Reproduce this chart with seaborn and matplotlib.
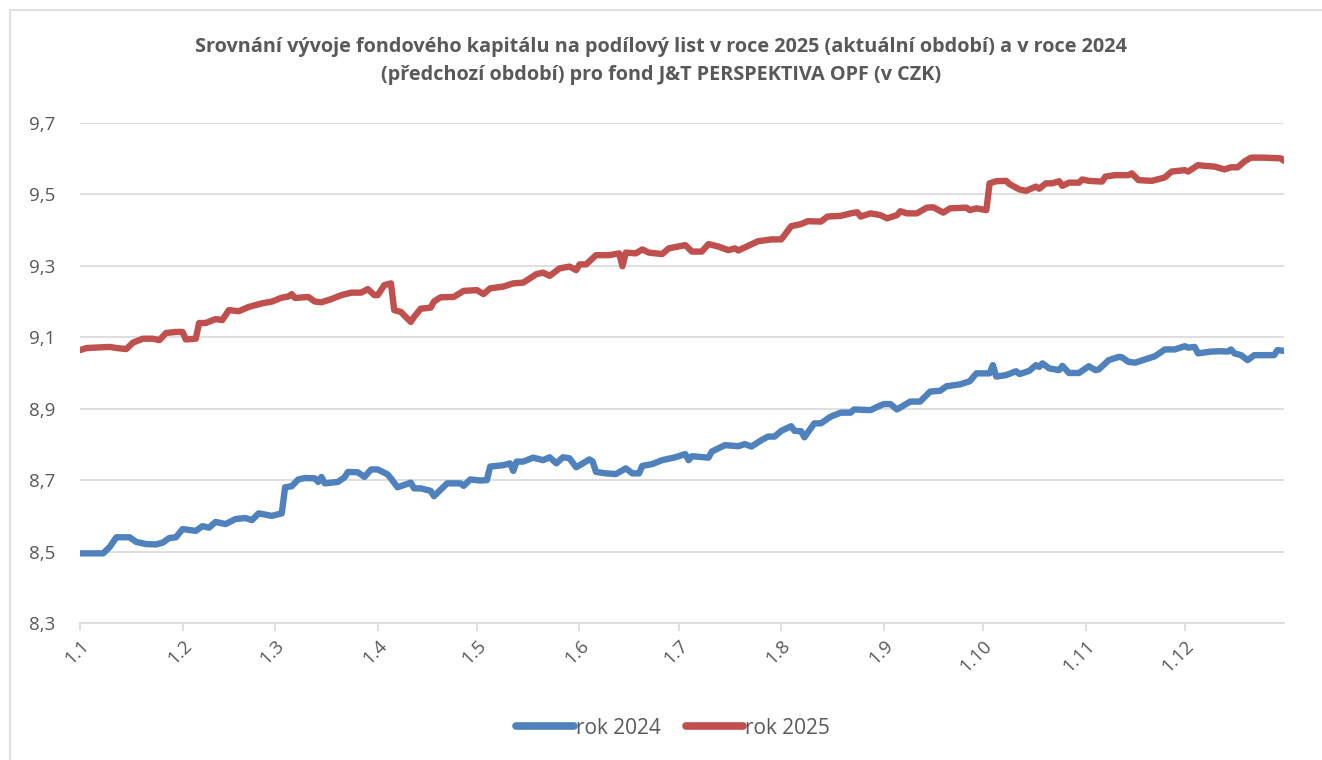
import pandas as pd
import seaborn as sns
import matplotlib.pyplot as plt
import matplotlib.dates as mdates
from matplotlib.ticker import FuncFormatter
from matplotlib.patches import Rectangle

# odečtené hodnoty (den v roce od 1.1., hodnota fondového kapitálu na PL)
den_2024 = [0, 7, 9, 11, 15, 17, 20, 23, 25, 27, 29, 31, 35, 37, 39, 41, 44, 47, 50, 52,
            54, 58, 61, 62, 64, 66, 68, 71, 72, 73, 74, 78, 80, 81, 84, 86, 88, 90, 93, 94,
            96, 100, 101, 103, 106, 107, 108, 111, 115, 116, 118, 121, 123, 124, 128, 130, 131, 132, 134, 137,
            140, 142, 144, 146, 148, 150, 152, 154, 155, 156, 159, 162, 165, 167, 169, 170, 173, 176, 180, 183,
            184, 185, 190, 191, 195, 199, 201, 203, 206, 208, 210, 212, 215, 216, 218, 219, 222, 224, 227, 230,
            233, 234, 239, 241, 243, 245, 247, 251, 254, 257, 260, 262, 266, 269, 271, 275, 276, 277, 280, 283,
            284, 287, 289, 290, 291, 293, 296, 297, 299, 302, 305, 307, 308, 311, 314, 315, 317, 319, 322, 325,
            328, 331, 334, 335, 337, 338, 342, 345, 347, 348, 349, 351, 353, 355, 361, 362, 364]
hodnota_2024 = [8.495, 8.495, 8.513, 8.540, 8.540, 8.527, 8.521, 8.520, 8.525, 8.538, 8.540, 8.563, 8.558, 8.571, 8.567, 8.583, 8.577, 8.591, 8.594, 8.588,
                8.607, 8.600, 8.607, 8.680, 8.683, 8.702, 8.706, 8.705, 8.695, 8.709, 8.691, 8.695, 8.708, 8.723, 8.722, 8.709, 8.730, 8.730, 8.716, 8.705,
                8.680, 8.693, 8.677, 8.677, 8.670, 8.655, 8.664, 8.691, 8.691, 8.684, 8.702, 8.699, 8.700, 8.738, 8.742, 8.747, 8.726, 8.752, 8.752, 8.763,
                8.756, 8.764, 8.747, 8.764, 8.761, 8.736, 8.747, 8.758, 8.752, 8.723, 8.719, 8.717, 8.733, 8.719, 8.719, 8.740, 8.745, 8.756, 8.764, 8.773,
                8.756, 8.767, 8.763, 8.780, 8.798, 8.795, 8.801, 8.794, 8.812, 8.822, 8.822, 8.838, 8.851, 8.838, 8.837, 8.820, 8.859, 8.859, 8.878, 8.889,
                8.889, 8.898, 8.896, 8.905, 8.913, 8.913, 8.898, 8.920, 8.920, 8.948, 8.950, 8.963, 8.968, 8.977, 8.999, 8.999, 9.022, 8.990, 8.994, 9.005,
                8.997, 9.006, 9.022, 9.017, 9.027, 9.013, 9.008, 9.020, 9.000, 9.000, 9.019, 9.008, 9.010, 9.036, 9.045, 9.044, 9.031, 9.029, 9.038, 9.047,
                9.066, 9.066, 9.075, 9.071, 9.073, 9.055, 9.060, 9.061, 9.060, 9.066, 9.055, 9.050, 9.036, 9.050, 9.050, 9.064, 9.062]

den_2025 = [0, 2, 9, 11, 14, 16, 19, 22, 24, 26, 29, 31, 32, 35, 36, 38, 41, 43, 45, 48,
            51, 55, 58, 61, 63, 64, 65, 69, 71, 73, 76, 79, 82, 85, 87, 89, 90, 92, 94, 95,
            97, 100, 101, 103, 106, 107, 109, 113, 116, 120, 122, 124, 128, 131, 134, 138, 140, 142, 145, 148,
            150, 151, 153, 156, 160, 163, 164, 165, 168, 170, 172, 176, 178, 183, 185, 188, 190, 193, 196, 198,
            199, 202, 205, 209, 212, 213, 215, 218, 220, 224, 226, 230, 233, 235, 236, 239, 242, 244, 247, 248,
            250, 253, 256, 258, 261, 263, 268, 269, 271, 274, 275, 277, 280, 281, 284, 286, 289, 290, 292, 294,
            296, 297, 299, 302, 303, 305, 309, 310, 313, 317, 318, 320, 324, 327, 328, 330, 334, 335, 338, 340,
            343, 346, 348, 350, 352, 354, 358, 363, 364]
hodnota_2025 = [9.064, 9.070, 9.073, 9.070, 9.067, 9.085, 9.096, 9.096, 9.092, 9.112, 9.115, 9.115, 9.094, 9.096, 9.140, 9.140, 9.151, 9.148, 9.176, 9.173,
                9.185, 9.195, 9.200, 9.211, 9.214, 9.221, 9.210, 9.213, 9.200, 9.198, 9.207, 9.218, 9.225, 9.225, 9.235, 9.218, 9.218, 9.246, 9.251, 9.176,
                9.171, 9.143, 9.157, 9.180, 9.183, 9.200, 9.212, 9.213, 9.230, 9.232, 9.221, 9.237, 9.242, 9.251, 9.253, 9.277, 9.281, 9.272, 9.293, 9.298,
                9.288, 9.304, 9.304, 9.330, 9.330, 9.335, 9.299, 9.337, 9.335, 9.346, 9.337, 9.333, 9.349, 9.358, 9.340, 9.340, 9.361, 9.354, 9.344, 9.349,
                9.343, 9.356, 9.369, 9.374, 9.374, 9.386, 9.411, 9.417, 9.425, 9.424, 9.438, 9.440, 9.447, 9.450, 9.438, 9.447, 9.442, 9.433, 9.442, 9.453,
                9.447, 9.447, 9.463, 9.464, 9.449, 9.461, 9.463, 9.456, 9.461, 9.456, 9.531, 9.537, 9.538, 9.529, 9.514, 9.510, 9.522, 9.516, 9.531, 9.531,
                9.537, 9.524, 9.533, 9.533, 9.542, 9.538, 9.536, 9.550, 9.554, 9.554, 9.559, 9.540, 9.538, 9.545, 9.548, 9.564, 9.568, 9.564, 9.582, 9.580,
                9.578, 9.570, 9.576, 9.576, 9.592, 9.603, 9.603, 9.601, 9.594]

serie = ['rok 2024', 'rok 2025']
barvy = ['#4F81BD', '#C0504D']
osa_y = [8.3, 8.5, 8.7, 8.9, 9.1, 9.3, 9.5, 9.7]
titulek = ('Srovnání vývoje fondového kapitálu na podílový list v roce 2025 (aktuální období) a v roce 2024\n'
           '(předchozí období) pro fond J&T PERSPEKTIVA OPF (v CZK)')

zacatek = pd.Timestamp('2025-01-01')
df = pd.concat([
    pd.DataFrame({'datum': zacatek + pd.to_timedelta(den_2024, unit='D'), 'hodnota': hodnota_2024, 'rok': serie[0]}),
    pd.DataFrame({'datum': zacatek + pd.to_timedelta(den_2025, unit='D'), 'hodnota': hodnota_2025, 'rok': serie[1]}),
])

sns.set_style('white')
plt.rcParams['font.family'] = ['Open Sans', 'DejaVu Sans']
seda = '#595959'

fig = plt.figure(figsize=(13.22, 7.6), dpi=100)
ax = fig.add_axes([80 / 1322, 1 - 623 / 760, (1284 - 80) / 1322, 500 / 760])

# rámeček grafu jako v Excelu
fig.patches.append(Rectangle((10 / 1322, -0.01), 1.02, 1 - 10 / 760 + 0.01, transform=fig.transFigure,
                             fill=False, edgecolor='#D9D9D9', linewidth=1.2))

sns.lineplot(data=df, x='datum', y='hodnota', hue='rok', palette=barvy, hue_order=serie,
             linewidth=4.6, ax=ax, legend=True)

ax.set_ylim(osa_y[0], osa_y[-1])
ax.set_yticks(osa_y)
ax.yaxis.set_major_formatter(FuncFormatter(lambda v, p: f'{v:.1f}'.replace('.', ',')))
ax.set_xlim(zacatek, pd.Timestamp('2025-12-31'))
ax.xaxis.set_major_locator(mdates.MonthLocator())
ax.xaxis.set_major_formatter(FuncFormatter(lambda v, p: f'{mdates.num2date(v).day}.{mdates.num2date(v).month}'))
ax.grid(axis='y', color='#D9D9D9', linewidth=1.2)
ax.grid(axis='x', visible=False)
for s in ['left', 'top', 'right']:
    ax.spines[s].set_visible(False)
ax.spines['bottom'].set_color('#D9D9D9')
ax.spines['bottom'].set_linewidth(1.2)
ax.tick_params(axis='x', which='major', bottom=True, length=6, color='#D9D9D9', width=1.2,
               labelsize=13.5, labelcolor=seda, pad=4)
ax.tick_params(axis='y', left=False, labelsize=13.5, labelcolor=seda, pad=14)
for t in ax.get_xticklabels():
    t.set_rotation(45)
    t.set_ha('right')
    t.set_rotation_mode('anchor')
ax.set_xlabel('')
ax.set_ylabel('')

fig.text(0.5, 1 - 61 / 760, titulek, ha='center', va='center', fontsize=14.3, fontweight='bold',
         color=seda, linespacing=1.5)

ax.legend_.remove()
leg = fig.legend(*ax.get_legend_handles_labels(), loc='center', bbox_to_anchor=(673 / 1322, 1 - 728 / 760),
                 ncol=2, frameon=False, fontsize=15, handlelength=2.75, handletextpad=0.1,
                 columnspacing=1.2, labelcolor=seda)
for h in leg.get_lines():
    h.set_linewidth(5.5)
    h.set_solid_capstyle('round')

fig.savefig('out.png', dpi=100, facecolor='white')
